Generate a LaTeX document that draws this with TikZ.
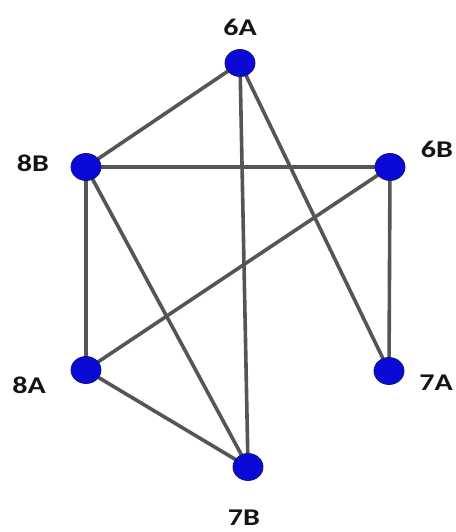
\documentclass[tikz,border=0pt]{standalone}
\usepackage{fontspec}
\setmainfont{Carlito}
\usetikzlibrary{shapes.geometric}
\pgfdeclarelayer{bg}
\pgfsetlayers{bg,main}
\tikzset{
  vert/.style={ellipse, fill={rgb,255:red,10;green,10;blue,215}, draw={rgb,255:red,20;green,20;blue,120}, line width=0.8pt, minimum width=30pt, minimum height=27pt, inner sep=0pt},
  lab/.style={font=\fontsize{24}{24}\selectfont\bfseries, inner sep=0pt, text={rgb,255:red,20;green,20;blue,20}},
  edge/.style={line width=3.6pt, draw={rgb,255:red,85;green,85;blue,85}}
}
\newcommand{\wl}[1]{\scalebox{1.25}[1]{#1}}
\begin{document}
\begin{tikzpicture}[x=1pt,y=-1pt]
\useasboundingbox (0,0) rectangle (455,532);
\node[vert] (n6A) at (240,63) {};
\node[vert] (n8B) at (86,167) {};
\node[vert] (n6B) at (390,167) {};
\node[vert] (n8A) at (86,370) {};
\node[vert] (n7A) at (389,371) {};
\node[vert] (n7B) at (248,467) {};
\node[lab] (l6A) at (240,27) {\wl{6A}};
\node[lab] (l8B) at (33,163) {\wl{8B}};
\node[lab] (l6B) at (437,149) {\wl{6B}};
\node[lab] (l8A) at (29,385) {\wl{8A}};
\node[lab] (l7A) at (436,383) {\wl{7A}};
\node[lab] (l7B) at (244,518) {\wl{7B}};
\begin{pgfonlayer}{bg}
\draw[edge] (n6A.center) -- (n8B.center);
\draw[edge] (n6A.center) -- (n7B.center);
\draw[edge] (n6A.center) -- (n7A.center);
\draw[edge] (n8B.center) -- (n6B.center);
\draw[edge] (n8B.center) -- (n8A.center);
\draw[edge] (n8B.center) -- (n7B.center);
\draw[edge] (n6B.center) -- (n8A.center);
\draw[edge] (n6B.center) -- (n7A.center);
\draw[edge] (n8A.center) -- (n7B.center);
\end{pgfonlayer}
\end{tikzpicture}
\end{document}
